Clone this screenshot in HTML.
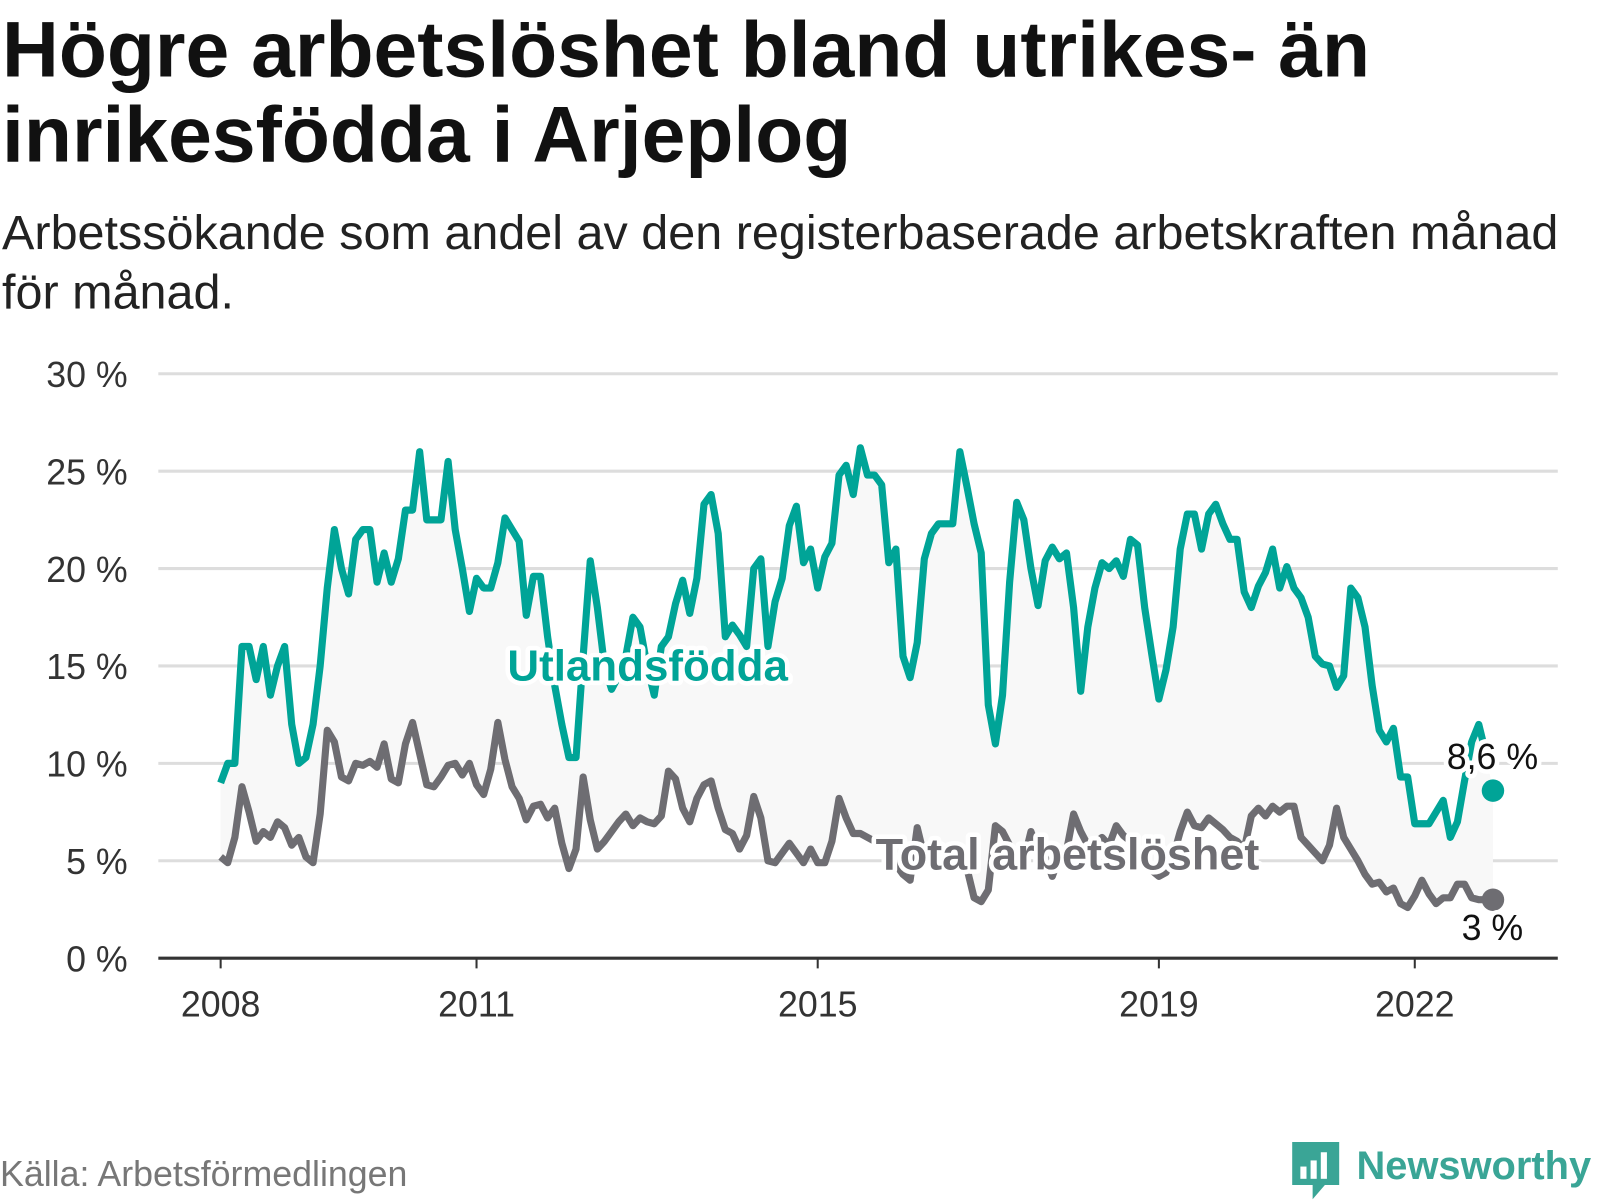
<!DOCTYPE html>
<html><head><meta charset="utf-8"><style>
body{margin:0;background:#fff;font-family:"Liberation Sans",sans-serif;overflow:hidden;width:1600px;height:1200px}
#wrap{position:relative;width:1567px;height:1175px;overflow:hidden;transform:scale(1.0215);transform-origin:0 0}
h1{position:absolute;left:2px;top:8px;margin:0;font-size:77px;line-height:83px;font-weight:bold;color:#111;white-space:nowrap}
.sub{position:absolute;left:2px;top:200px;font-size:47.5px;line-height:58px;color:#222;white-space:nowrap}
.src{position:absolute;left:0;top:1130px;font-size:35px;color:#777}
</style></head><body>
<div id="wrap">
<h1>Högre arbetslöshet bland utrikes- än<br>inrikesfödda i Arjeplog</h1>
<div class="sub">Arbetssökande som andel av den registerbaserade arbetskraften månad<br>för månad.</div>
<svg id="chart" width="1567" height="1175" style="position:absolute;left:0;top:0"></svg>
<div class="src">Källa: Arbetsförmedlingen</div>
<div style="position:absolute;left:1262px;top:1116px">
<svg width="305" height="62"><path d="M3 2h46v42h-14l-12 14v-14H3z" fill="#3aa596"/><rect x="11" y="26" width="6" height="12" fill="#fff"/><rect x="21" y="20" width="6" height="18" fill="#fff"/><rect x="31" y="12" width="6" height="26" fill="#fff"/><text x="66" y="38" font-size="39" font-weight="bold" fill="#3aa596" font-family="Liberation Sans, sans-serif">Newsworthy</text></svg></div>
</div>
<script>
const years=[2008,2011,2015,2019,2022];
const yTicks=[0,5,10,15,20,25,30];
const utl=[9,10,10,16,16,14.3,16,13.5,15,16,12,10,
10.3,12,15,19,22,20,18.7,21.5,22,22,19.3,20.8,
19.3,20.5,23,23,26,22.5,22.5,22.5,25.5,22,20,17.8,
19.5,19,19,20.3,22.6,22,21.4,17.6,19.6,19.6,16.5,14,
12,10.3,10.3,15.5,20.4,18,15,13.8,14.5,15.5,17.5,17,
15,13.5,16,16.5,18.2,19.4,17.7,19.5,23.3,23.8,21.8,16.5,
17.1,16.6,16,20,20.5,16,18.3,19.5,22.2,23.2,20.3,21,
19,20.6,21.3,24.8,25.3,23.8,26.2,24.8,24.8,24.3,20.3,21,
15.5,14.4,16.2,20.5,21.8,22.3,22.3,22.3,26,24.2,22.3,20.8,
13,11,13.5,19.3,23.4,22.5,20,18.1,20.4,21.1,20.5,20.8,
18,13.7,17,19,20.3,20,20.4,19.6,21.5,21.2,18,15.6,
13.3,14.8,17,21,22.8,22.8,21,22.8,23.3,22.3,21.5,21.5,
18.8,18,19.1,19.8,21,19,20.1,19,18.5,17.5,15.5,15.1,
15,13.9,14.5,19,18.5,17,14,11.7,11.1,11.8,9.3,9.3,
6.9,6.9,6.9,7.5,8.1,6.2,7,9.1,11.1,12,10.5,8.6];
const tot=[5.2,4.9,6.2,8.8,7.5,6,6.5,6.2,7,6.7,5.8,6.2,
5.2,4.9,7.4,11.7,11.1,9.3,9.1,10,9.9,10.1,9.8,11,
9.2,9,11,12.1,10.5,8.9,8.8,9.3,9.9,10,9.4,10,
8.9,8.4,9.7,12.1,10.2,8.8,8.2,7.1,7.8,7.9,7.2,7.7,
5.9,4.6,5.6,9.3,7.1,5.6,6,6.5,7,7.4,6.8,7.2,
7,6.9,7.3,9.6,9.2,7.7,7,8.2,8.9,9.1,7.7,6.6,
6.4,5.6,6.3,8.3,7.2,5,4.9,5.4,5.9,5.4,4.9,5.6,
4.9,4.9,6,8.2,7.2,6.4,6.4,6.2,6,6,5.5,4.8,
4.3,4,6.7,5.2,4.8,4.5,5.2,5.8,5.5,4.6,3.1,2.9,
3.5,6.8,6.5,5.8,5.5,5,6.5,5.5,5.2,4.2,5.2,5.5,
7.4,6.5,5.8,5.9,6.2,5.8,6.8,6.3,6,5.5,5,4.5,
4.2,4.4,5.2,6.5,7.5,6.8,6.7,7.2,6.9,6.6,6.2,6,
5.6,7.3,7.7,7.3,7.8,7.5,7.8,7.8,6.2,5.8,5.4,5,
5.8,7.7,6.2,5.6,5,4.3,3.8,3.9,3.4,3.6,2.8,2.6,
3.2,4,3.3,2.8,3.1,3.1,3.8,3.8,3.1,3,3,3];
const NS='http://www.w3.org/2000/svg';
const svg=document.getElementById('chart');
const X=i=>216+(i/12)*83.5;
const XY=yr=>216+(yr-2008)*83.5;
const Y=v=>938-v*19.07;
function mk(t,a){const e=document.createElementNS(NS,t);for(const k in a)e.setAttribute(k,a[k]);svg.appendChild(e);return e;}
yTicks.forEach(v=>{
 if(v>0){const g=mk('line',{x1:155,x2:1525,y1:Y(v),y2:Y(v),stroke:'#ddd','stroke-width':3});
 
 }
 const t=mk('text',{x:125,y:Y(v)+13,'text-anchor':'end','font-size':35,fill:'#333'});t.textContent=v+' %';
 
 
});
let d='M'+utl.map((v,i)=>X(i)+','+Y(v)).join('L');
for(let i=tot.length-1;i>=0;i--)d+='L'+X(i)+','+Y(tot[i]);
const ar=mk('path',{d:d+'Z',fill:'#f8f8f8'});


const ax=mk('line',{x1:155,x2:1525,y1:938,y2:938,stroke:'#333','stroke-width':3});


years.forEach(yr=>{
 const tk=mk('line',{x1:XY(yr),x2:XY(yr),y1:938,y2:948,stroke:'#333','stroke-width':2});
 
 
 const t=mk('text',{x:XY(yr),y:995,'text-anchor':'middle','font-size':35,fill:'#333'});t.textContent=yr;
 
 
});
function line(arr,col,name){
 const p=mk('path',{d:'M'+arr.slice(0,-1).map((v,i)=>X(i)+','+Y(v)).join('L'),fill:'none',stroke:col,'stroke-width':7,'stroke-linejoin':'round'});
 
 
 const c=mk('circle',{cx:X(arr.length-1),cy:Y(arr[arr.length-1]),r:11,fill:col});
 
 
}
line(tot,'#6e6d72','total-line');
line(utl,'#00a497','utlandsfodda-line');
function lab(x,y,txt,col,size,bold,anchor,name){
 const t=mk('text',{x:x,y:y,'text-anchor':anchor,'font-size':size,'font-weight':bold?'bold':'normal',fill:col,stroke:'#fff','stroke-width':9,'paint-order':'stroke','stroke-linejoin':'round'});
 t.textContent=txt;
 
 
}
lab(634,666,'Utlandsfödda','#00a497',43,true,'middle','utlandsfodda-label');
lab(1045,851,'Total arbetslöshet','#6e6d72',44,true,'middle','total-label');
lab(1461,753,utl[utl.length-1].toString().replace('.',',')+' %','#111',35,false,'middle','utl-end-value');
lab(1461,920,tot[tot.length-1].toString().replace('.',',')+' %','#111',35,false,'middle','total-end-value');
</script>
</body></html>
